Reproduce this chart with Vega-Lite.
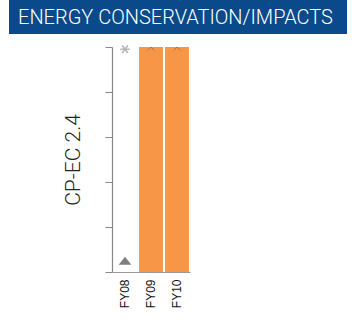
{
  "$schema": "https://vega.github.io/schema/vega-lite/v6.json",
  "padding": {"left": 9, "top": 0, "right": 0, "bottom": 0},
  "background": "white",
  "config": {"view": {"stroke": null}, "font": "Roboto"},
  "datasets": {
    "bars": [
      {"fy": "FY09", "value": 5},
      {"fy": "FY10", "value": 5}
    ],
    "stars": [
      {"fy": "FY08", "value": 4.95}
    ],
    "chevrons": [
      {"fy": "FY09", "value": 4.97},
      {"fy": "FY10", "value": 4.97}
    ],
    "triangles": [
      {"fy": "FY08", "value": 0.25}
    ],
    "banner": [
      {"label": "ENERGY CONSERVATION/IMPACTS"}
    ]
  },
  "spacing": 7,
  "vconcat": [
    {
      "width": 338,
      "height": 34,
      "view": {"fill": "#0a4a8a", "stroke": null},
      "data": {"name": "banner"},
      "mark": {"type": "text", "align": "left", "baseline": "middle", "color": "white", "fontSize": 20, "font": "Roboto", "fontWeight": 300},
      "encoding": {
        "text": {"field": "label"},
        "x": {"value": 9},
        "y": {"value": 18}
      }
    },
    {
      "spacing": 0,
      "hconcat": [
        {
          "width": 53,
          "height": 1,
          "data": {"values": [{}]},
          "mark": {"type": "text"},
          "encoding": {"text": {"value": ""}}
        },
        {
          "width": 78,
          "height": 225,
          "encoding": {
            "x": {
              "field": "fy",
              "type": "nominal",
              "scale": {"domain": ["FY08", "FY09", "FY10"], "paddingInner": 0.08, "paddingOuter": 0.04},
              "axis": {
                "title": null,
                "labelAngle": -90,
                "labelAlign": "right",
                "labelBaseline": "middle",
                "labelFontSize": 12,
                "labelFont": "Liberation Sans",
                "labelColor": "#111",
                "labelPadding": 7,
                "ticks": false,
                "domainColor": "#999",
                "domainWidth": 1.2
              }
            },
            "y": {
              "field": "value",
              "type": "quantitative",
              "scale": {"domain": [0, 5], "nice": false},
              "axis": {
                "title": "CP-EC 2.4",
                "titleFont": "Roboto",
                "titleFontSize": 21,
                "titleFontWeight": 300,
                "titleColor": "#222",
                "titlePadding": 21,
                "labels": false,
                "grid": false,
                "values": [0, 1, 2, 3, 4, 5],
                "tickSize": 7,
                "tickColor": "#888",
                "domainColor": "#888",
                "domainWidth": 1.2
              }
            }
          },
          "layer": [
            {
              "data": {"name": "bars"},
              "mark": {"type": "bar", "color": "#F79646"}
            },
            {
              "data": {"name": "stars"},
              "mark": {"type": "point", "shape": "M-1,0L1,0M-0.6,-0.8L0.6,0.8M-0.6,0.8L0.6,-0.8", "filled": false, "stroke": "#999999", "strokeWidth": 1.6, "size": 90}
            },
            {
              "data": {"name": "chevrons"},
              "mark": {"type": "point", "shape": "M-1,0.6L0,-0.4L1,0.6", "filled": false, "stroke": "#8a6a50", "strokeWidth": 1, "size": 45, "opacity": 0.7}
            },
            {
              "data": {"name": "triangles"},
              "mark": {"type": "point", "shape": "M0,-0.65L1,0.65L-1,0.65Z", "filled": true, "color": "#808080", "size": 160, "opacity": 1}
            }
          ]
        }
      ]
    }
  ]
}
